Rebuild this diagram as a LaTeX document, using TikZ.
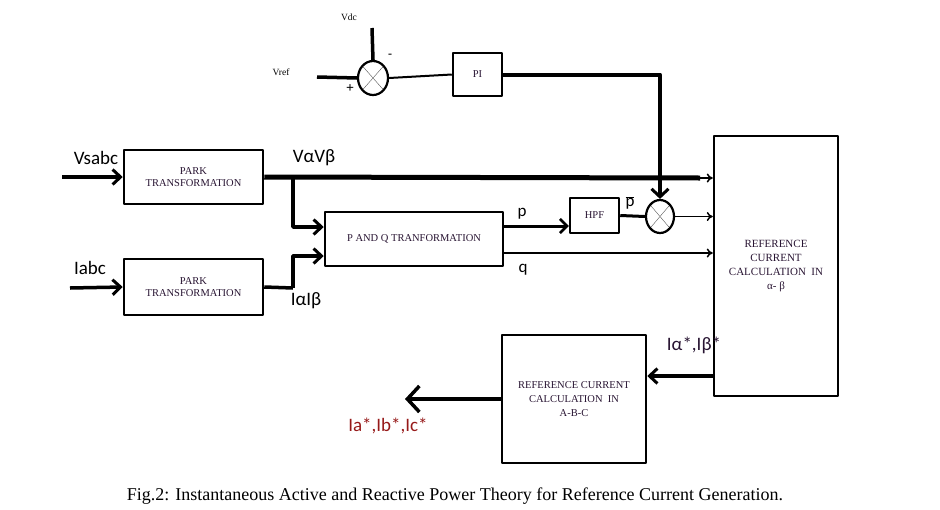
\documentclass[tikz,border=0pt]{standalone}
\usepackage{fontspec}
\setmainfont{Liberation Serif}
\newfontfamily\lblfont{Carlito}
\usepackage{tikz}
\usetikzlibrary{arrows.meta,shapes.geometric}

\definecolor{boxtext}{RGB}{40,20,50}
\definecolor{outred}{RGB}{150,25,25}

\begin{document}
\begin{tikzpicture}[x=1pt,y=-1pt,line join=round,
  block/.style={draw,line width=2.5pt,inner sep=0pt,font=\fontsize{10.5}{12}\selectfont,
    text=boxtext,align=center},
  mult/.style={draw,ellipse,line width=2.2pt,inner sep=0pt,
    path picture={\draw[line width=0.4pt,gray!70!black]
      (path picture bounding box.north west) -- (path picture bounding box.south east)
      (path picture bounding box.south west) -- (path picture bounding box.north east);}},
  heavy/.style={line width=3.5pt},
  heavyarr/.style={line width=3.5pt,-{Straight Barb[length=8pt,width=15pt,line width=3pt]}},
  thinarr/.style={line width=1.5pt,-{To[length=6pt,width=9pt]}},
  lbl/.style={font=\lblfont\fontsize{19}{21}\selectfont},
  small/.style={font=\fontsize{9.5}{10}\selectfont}]
  \useasboundingbox (0,0) rectangle (940,509);

  % blocks
  \node[mult,minimum width=30,minimum height=34] (sum1) at (373,78) {};
  \node[block,minimum width=49,minimum height=43] (pi) at (477.5,74.5) {PI};
  \node[block,minimum width=139,minimum height=54] (park1) at (193.5,177) {PARK\\TRANSFORMATION};
  \node[block,minimum width=139,minimum height=56] (park2) at (193.5,287) {PARK\\TRANSFORMATION};
  \node[block,minimum width=178,minimum height=54] (pq) at (414,239) {P AND Q TRANFORMATION};
  \node[block,minimum width=49,minimum height=35] (hpf) at (594.5,215.5) {HPF};
  \node[mult,minimum width=28,minimum height=33] (mult2) at (660,216.5) {};
  \node[block,minimum width=124,minimum height=260,font=\fontsize{11}{14}\selectfont] (ref1) at (776,266)
    {REFERENCE\\CURRENT\\CALCULATION\ \ IN\\α- β};
  \node[block,minimum width=144,minimum height=128,font=\fontsize{10.5}{14}\selectfont] (ref2) at (574,399)
    {REFERENCE CURRENT\\CALCULATION\ \ IN\\A-B-C};

  % free ends
  \coordinate (vdcin) at (372,28);
  \coordinate (vrefin) at (317,77);
  \coordinate (vsin) at (62,177);
  \coordinate (iin) at (70,288);
  \coordinate (vbr) at (293,178);
  \coordinate (ibr) at (293,288);
  \coordinate (vend) at (700,178);
  \coordinate (pout) at ([yshift=13pt]pq.east);
  \coordinate (qout) at ([yshift=-14pt]pq.east);
  \coordinate (r1out) at ([yshift=-110pt]ref1.west);
  \coordinate (abcout) at (405,399);

  % connectors
  \draw[heavy] (vdcin) -- (sum1.north);
  \draw[heavy] (vrefin) -- (sum1.west);
  \draw[line width=2pt] (sum1.east) -- (pi.west);
  \draw[line width=4pt,-{Straight Barb[length=8pt,width=17pt,line width=3pt]}] (pi.east) -| (mult2.north);
  \draw[heavyarr] (vsin) -- (park1.west);
  \draw[heavyarr] (iin) -- (park2.west);
  \draw[line width=5pt] (park1.east) -- (vend);
  \draw[thinarr] (vend) -- (vend -| ref1.west);
  \draw[heavyarr] (vbr) |- ([yshift=12pt]pq.west);
  \draw[heavy] (park2.east) -- (ibr);
  \draw[heavyarr] (ibr) |- ([yshift=-17pt]pq.west);
  \draw[line width=3pt,-{Straight Barb[length=7pt,width=14pt,line width=2.5pt]}] (pout) -- (pout -| hpf.west);
  \draw[line width=3pt] (hpf.east) -- (mult2.west);
  \draw[thinarr] (mult2.east) -- (mult2.east -| ref1.west);
  \draw[thinarr] (qout) -- (qout -| ref1.west);
  \draw[heavyarr] (r1out) -- (r1out -| ref2.east);
  \draw[line width=4pt,-{Straight Barb[length=12pt,width=26pt,line width=3.5pt]}] (ref2.west) -- (abcout);

  % labels
  \node[small] at (349,17) {Vdc};
  \node[small] at (281,72) {Vref};
  \node[font=\bfseries\fontsize{14}{14}\selectfont] at (350,89) {+};
  \node[font=\bfseries\fontsize{12}{12}\selectfont] at (390,56) {-};
  \node[lbl] at (96,158) {Vsabc};
  \node[lbl] at (314,158) {VαVβ};
  \node[lbl] at (90,268) {Iabc};
  \node[lbl] at (306,301) {IαIβ};
  \node[lbl,font=\lblfont\fontsize{17}{18}\selectfont] at (522,214) {p};
  \node[lbl,font=\lblfont\fontsize{17}{18}\selectfont] at (630,203) {$\overline{\hbox{\lblfont p}}$};
  \node[lbl,font=\lblfont\fontsize{17}{18}\selectfont] at (523,270) {q};
  \node[lbl,text=boxtext] at (694,345) {Iα*,Iβ*};
  \node[lbl,text=outred] at (388,426) {Ia*,Ib*,Ic*};
  \node[font=\fontsize{18}{20}\selectfont] at (455,496)
    {Fig.2: Instantaneous Active and Reactive Power Theory for Reference Current Generation.};
\end{tikzpicture}
\end{document}
